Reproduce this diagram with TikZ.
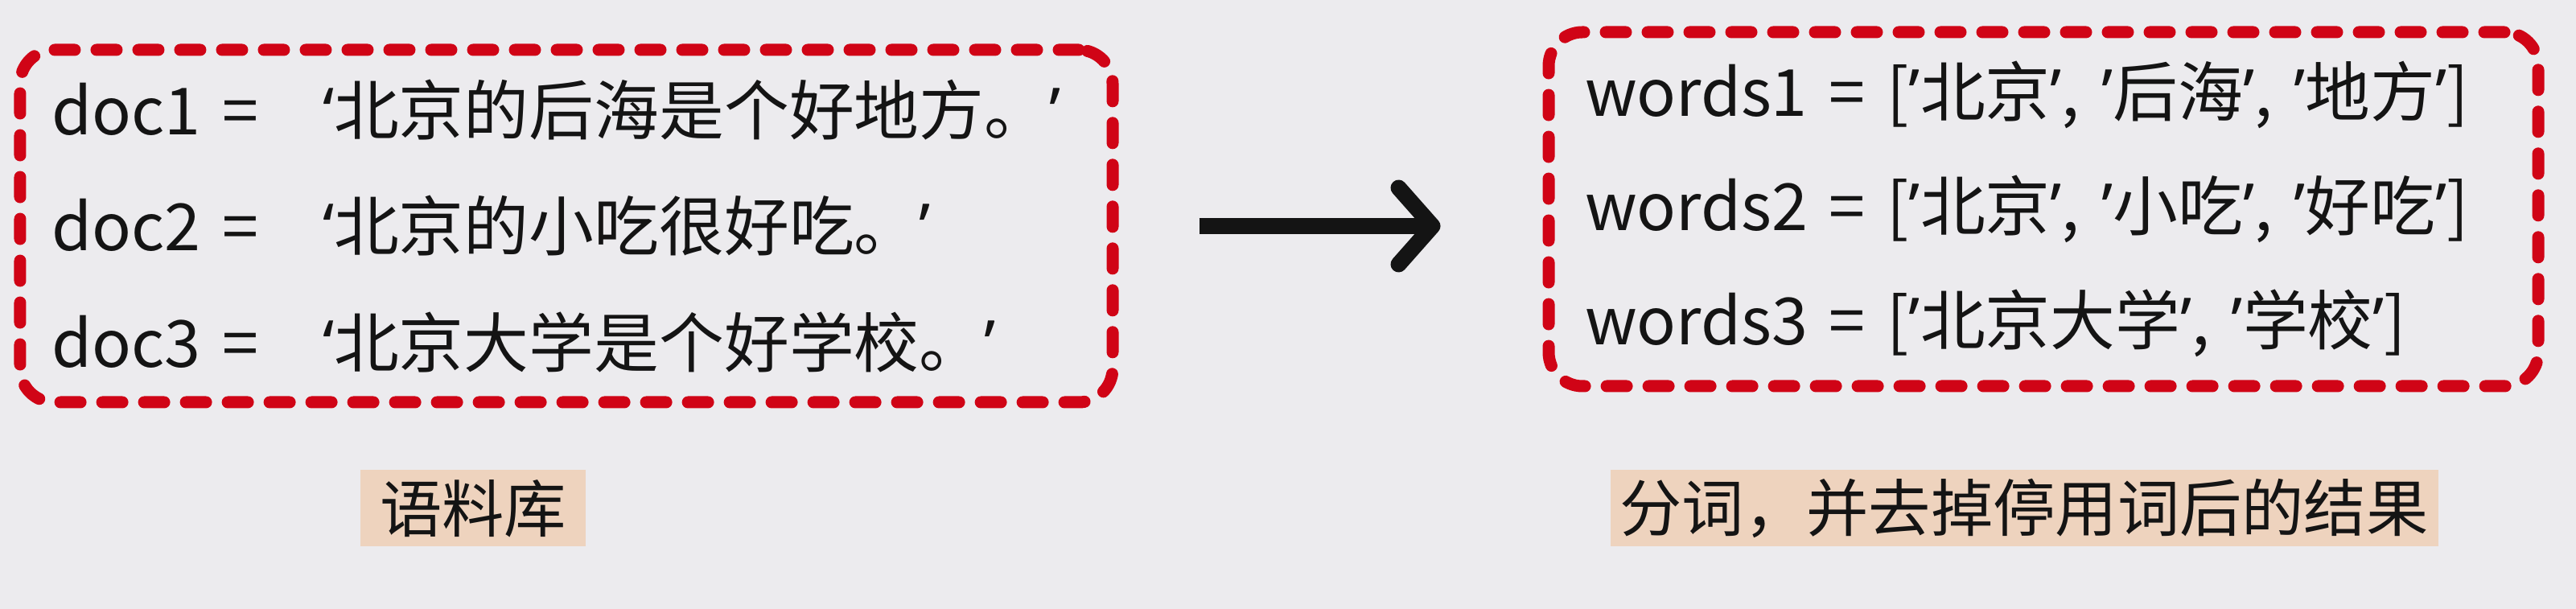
\documentclass[tikz,border=0pt]{standalone}
\usepackage{fontspec}
\setmainfont{Noto Sans CJK SC}
\newfontfamily\quotefont{Noto Sans}
\newcommand{\oq}{{\quotefont ‘}}
\newcommand{\cq}{{\quotefont ’}}
\usetikzlibrary{arrows.meta,positioning}
\definecolor{bggray}{RGB}{236,235,238}
\definecolor{dashred}{RGB}{208,4,22}
\definecolor{peach}{RGB}{238,211,190}
\definecolor{ink}{RGB}{20,20,20}

\begin{document}
\begin{tikzpicture}[
  dashbox/.style={rectangle, draw=dashred, line width=0.15cm, rounded corners=0.42cm, dash pattern=on 0.25cm off 0.27cm, line cap=round, align=left, text=ink},
  tag/.style={rectangle, fill=peach, minimum height=0.95cm, inner sep=0pt, font=\fontsize{22pt}{26pt}\selectfont, text=ink},
  arrow/.style={line width=0.2cm, -{Straight Barb[length=0.42cm, width=0.95cm, round]}, draw=ink}
]
  \fill[bggray] (0,0) rectangle (32.02,7.57);
  \useasboundingbox (0,0) rectangle (32.02,7.57);
  % corpus and the tokenised result
  \node[dashbox, minimum width=13.52cm, minimum height=4.38cm, text width=12.8cm, inner xsep=0.39cm, font=\fontsize{23pt}{41pt}\selectfont] (corpus) at (7.04,4.76)
    {doc1 =\hspace{0.8cm}\oq 北京的后海是个好地方。\cq\\
     doc2 =\hspace{0.8cm}\oq 北京的小吃很好吃。\cq\\
     doc3 =\hspace{0.8cm}\oq 北京大学是个好学校。\cq};
  \node[dashbox, minimum width=12.15cm, minimum height=4.40cm, text width=11.4cm, inner xsep=0.45cm, font=\fontsize{23pt}{40.5pt}\selectfont] (tokens) at (25.40,4.97)
    {words1 = [\cq 北京\cq, \cq 后海\cq, \cq 地方\cq]\\
     words2 = [\cq 北京\cq, \cq 小吃\cq, \cq 好吃\cq]\\
     words3 = [\cq 北京大学\cq, \cq 学校\cq]};
  \draw[arrow] ([xshift=1.0cm]corpus.east) -- ++(3.0,0);
  % captions
  \node[tag, minimum width=2.8cm] (corpuslabel) at (5.88,1.25) {语料库};
  \node[tag, minimum width=10.29cm] (tokenslabel) at (25.16,1.25) {分词，并去掉停用词后的结果};
\end{tikzpicture}
\end{document}
